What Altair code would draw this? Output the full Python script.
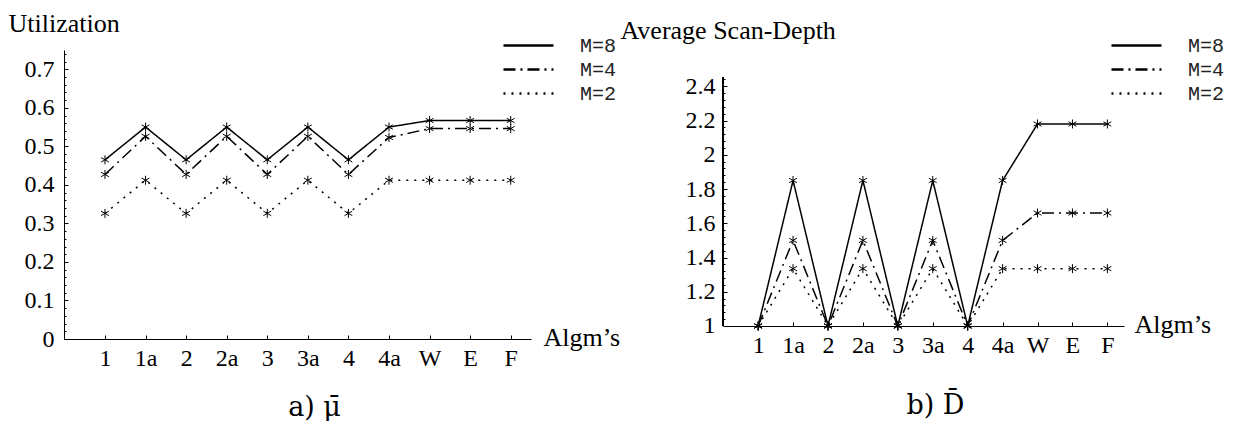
import altair as alt
import pandas as pd

# ---------------- data ----------------
algs = ["1", "1a", "2", "2a", "3", "3a", "4", "4a", "W", "E", "F"]
series = ["M=8", "M=4", "M=2"]

util_m8 = [0.465, 0.550, 0.465, 0.550, 0.465, 0.550, 0.465, 0.550, 0.567, 0.567, 0.567]
util_m4 = [0.427, 0.526, 0.427, 0.526, 0.427, 0.526, 0.427, 0.523, 0.546, 0.546, 0.546]
util_m2 = [0.326, 0.412, 0.326, 0.412, 0.326, 0.412, 0.326, 0.412, 0.412, 0.412, 0.412]

depth_m8 = [1.0, 1.85, 1.0, 1.85, 1.0, 1.85, 1.0, 1.85, 2.18, 2.18, 2.18]
depth_m4 = [1.0, 1.50, 1.0, 1.50, 1.0, 1.50, 1.0, 1.50, 1.66, 1.66, 1.66]
depth_m2 = [1.0, 1.335, 1.0, 1.335, 1.0, 1.335, 1.0, 1.335, 1.335, 1.335, 1.335]

util_major = [0, 0.1, 0.2, 0.3, 0.4, 0.5, 0.6, 0.7]
util_minor = [round(0.02 * k, 2) for k in range(1, 38) if k % 5 != 0]
depth_major = [1.0, 1.2, 1.4, 1.6, 1.8, 2.0, 2.2, 2.4]
depth_minor = [round(1 + 0.04 * k, 2) for k in range(1, 37) if k % 5 != 0]

captions = ["a) \u03bc\u0304", "b) D\u0304"]
ytitles = ["Utilization", "Average Scan-Depth"]
xtitle = "Algm\u2019s"

ASTERISK = "M0,-1L0,1M-0.87,-0.5L0.87,0.5M-0.87,0.5L0.87,-0.5"
LEGEND_LINE = "M-2.78,0H2.78"
SERIF = "Liberation Serif"
CAPTION_FONT = "DejaVu Serif"


def long_table(vals_by_series):
    rows = []
    for s, vals in zip(series, vals_by_series):
        for i, (a, v) in enumerate(zip(algs, vals)):
            rows.append({"idx": i, "alg": a, "series": s, "value": v})
    return pd.DataFrame(rows)


label_expr = "[" + ",".join("'%s'" % a for a in algs) + "][datum.value]"


def panel(df, width, height, xdom, ydom, ymajor, yminor, ytitle, ytitle_x, ytitle_y,
          xtitle_x, xoff, ylabpad, legend_x, legend_y, caption, cap_dx, cap_off,
          yline=None):
    xs = alt.Scale(domain=xdom, nice=False, zero=False)
    ys = alt.Scale(domain=ydom, nice=False, zero=False)

    x_main = alt.X("idx:Q", scale=xs, axis=alt.Axis(
        orient="bottom", values=list(range(len(algs))), labelExpr=label_expr,
        ticks=False, tickSize=0, domain=True, labelPadding=7, offset=xoff,
        title=xtitle, titleX=xtitle_x, titleY=6, titleAlign="left",
        titleBaseline="alphabetic", titleAngle=0))
    y_main = alt.Y("value:Q", scale=ys, axis=alt.Axis(
        orient="left", values=ymajor, format="~g", ticks=False, tickSize=0,
        domain=(yline is None), labelPadding=ylabpad,
        title=ytitle, titleX=ytitle_x, titleY=ytitle_y, titleAlign="left",
        titleBaseline="alphabetic", titleAngle=0))

    lines = alt.Chart(df).mark_line(color="black", strokeWidth=1.5).encode(
        x=x_main, y=y_main,
        strokeDash=alt.StrokeDash("series:N", scale=alt.Scale(
            domain=series, range=[[1, 0], [12, 5, 2, 5], [2, 6]]),
            legend=alt.Legend(
                title=None, orient="none", legendX=legend_x, legendY=legend_y,
                symbolType=LEGEND_LINE, symbolSize=324, symbolStrokeWidth=2.5,
                symbolStrokeColor="black", labelFont="Liberation Mono",
                labelFontSize=20, labelColor="#222", labelOffset=41,
                rowPadding=3, padding=0)),
    )

    x_ticks = alt.X("idx:Q", scale=xs, axis=alt.Axis(
        orient="bottom", values=list(range(len(algs))), labels=False,
        domain=False, ticks=True, tickSize=4, offset=xoff - 4, title=None))
    y_ticks = alt.Y("value:Q", scale=ys, axis=alt.Axis(
        orient="left", values=ymajor, labels=False, domain=False, ticks=True,
        tickSize=4, offset=-4, title=None))
    points = alt.Chart(df).mark_point(
        shape=ASTERISK, size=81, filled=False, color="black", strokeWidth=1,
        opacity=1).encode(x=x_ticks, y=y_ticks)

    y_minor = alt.Y("value:Q", scale=ys, axis=alt.Axis(
        orient="left", values=yminor, labels=False, domain=False, ticks=True,
        tickSize=2, offset=-2, title=None))
    minor = alt.Chart(df).mark_point(opacity=0).encode(
        x=alt.X("idx:Q", scale=xs, axis=None), y=y_minor)

    layers = [lines, points, minor]
    if yline is not None:
        rule = alt.Chart(df).mark_rule(color="black", strokeWidth=1).encode(
            x=alt.value(0), y=alt.YDatum(yline[0], axis=None),
            y2=alt.Y2Datum(yline[1]))
        layers.append(rule)

    return alt.layer(*layers).resolve_axis(
        x="independent", y="independent").properties(
        width=width, height=height,
        title=alt.TitleParams(caption, orient="bottom", anchor="middle",
                              baseline="top", dx=cap_dx, offset=cap_off,
                              fontSize=27, font=CAPTION_FONT,
                              fontWeight="normal", color="black"))


left = panel(long_table([util_m8, util_m4, util_m2]), 467, 289,
             [-1.01, 10.5], [0, 0.75], util_major, util_minor,
             ytitles[0], -56, -19, 479, 0, 10, 454, -15,
             captions[0], 17, 25)

right = panel(long_table([depth_m8, depth_m4, depth_m2]), 401, 289,
              [-1.006, 10.476], [0.924, 2.612], depth_major, depth_minor,
              ytitles[1], -103, -12, 411, -13, 8, 403, -15,
              captions[1], 12, 36, yline=(1.0, 2.45))

chart = alt.HConcatChart(hconcat=[left, right], spacing=192, bounds="flush").resolve_scale(
    strokeDash="independent").resolve_legend(strokeDash="independent").properties(
    padding={"left": 0, "top": 2, "right": 0, "bottom": 0}, background="white"
).configure_axis(
    grid=False, labelFont=SERIF, labelFontSize=24, labelColor="black",
    titleFont=SERIF, titleFontSize=26, titleFontWeight="normal", titleColor="black",
    domainColor="black", domainWidth=1, tickColor="black", tickWidth=1,
).configure_view(stroke=None)

chart.save("out.html", embed_options={"renderer": "svg", "actions": False})
